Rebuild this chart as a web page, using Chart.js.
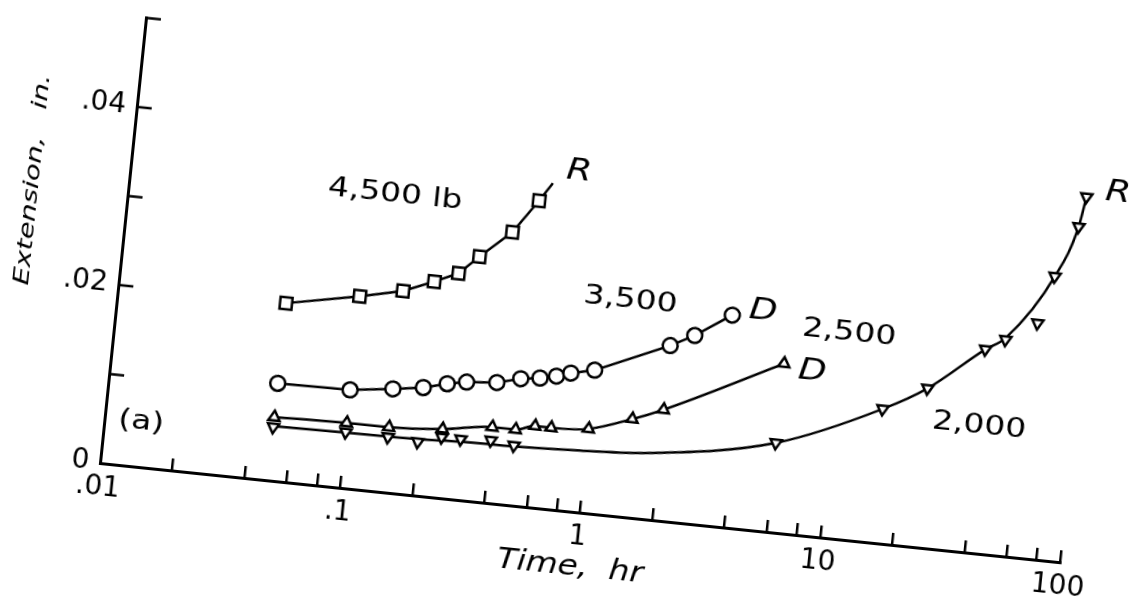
<!DOCTYPE html>
<html>
<head>
<meta charset="utf-8">
<script src="https://cdn.jsdelivr.net/npm/chart.js@4"></script>
<style>
  html, body { margin: 0; padding: 0; background: #fff; overflow: hidden; width: 1131px; height: 601px; }
  /* the whole plate sits tilted on the page, turned about the origin of the axes */
  #wrap { position: absolute; left: -70px; top: -57px; width: 1280px; height: 640px;
          transform-origin: 170px 520px; transform: rotate(5.9deg); }
</style>
</head>
<body>
<div id="wrap"><canvas id="creep" width="1280" height="640"></canvas></div>
<script>
// creep tests, extension vs time, one series per load
const times4500 = [0.05, 0.1, 0.15, 0.2, 0.25, 0.3, 0.4, 0.5, 0.56];
const ext4500   = [0.0199, 0.0215, 0.0226, 0.0240, 0.0252, 0.0273, 0.0304, 0.0342, 0.0363];

const times3500 = [0.05, 0.1, 0.15, 0.2, 0.25, 0.3, 0.4, 0.5, 0.6, 0.7, 0.8, 1.0, 2.0, 2.5, 3.5];
const ext3500   = [0.0109, 0.0110, 0.0116, 0.0121, 0.0128, 0.0132, 0.0135, 0.0142, 0.0145, 0.0149, 0.0154, 0.0160, 0.0196, 0.0210, 0.0237];

const times2500 = [0.05, 0.1, 0.15, 0.25, 0.4, 0.5, 0.6, 0.7, 1.0, 1.5, 2.0, 6.0];
const ext2500   = [0.0071, 0.0073, 0.0073, 0.0077, 0.0085, 0.0085, 0.0091, 0.0091, 0.0094, 0.0110, 0.0124, 0.0189];

const times2000 = [0.05, 0.1, 0.15, 0.2, 0.25, 0.3, 0.4, 0.5, 6, 16, 24, 40, 48, 64, 72, 86, 90];
const ext2000   = [0.0060, 0.00625, 0.0062, 0.0060, 0.0068, 0.0068, 0.0070, 0.0067, 0.0100, 0.0150, 0.0178, 0.0228, 0.0241, 0.0263, 0.0317, 0.0375, 0.0409];

// faired curve through the 2,000 lb points
const curveTimes2000 = [0.05, 0.1, 0.2, 0.3, 0.5, 0.94, 1.8, 6, 16, 24, 40, 48, 72, 86, 90];
const curveExt2000   = [0.0061, 0.0062, 0.0063, 0.0065, 0.0066, 0.0069, 0.0074, 0.0100, 0.0150, 0.0178, 0.0228, 0.0243, 0.0317, 0.0375, 0.0409];

// axis ticks and labels
const xTickValues  = [0.01, 0.02, 0.04, 0.06, 0.08, 0.1, 0.2, 0.4, 0.6, 0.8, 1, 2, 4, 6, 8, 10, 20, 40, 60, 80, 100];
const xLabelValues = [0.01, 0.1, 1, 10, 100];
const xLabelText   = ['.01', '.1', '1', '10', '100'];
const yTickValues  = [0, 0.01, 0.02, 0.03, 0.04, 0.05];
const yLabelValues = [0, 0.02, 0.04];
const yLabelText   = ['0', '.02', '.04'];

// curve notes: load, R = rupture, D = discontinued
const noteText   = ['4,500 lb', 'R', '3,500', 'D', '2,500', 'D', '2,000', 'R', '(a)'];
const noteTime   = [0.1265, 0.71, 1.31, 4.68, 10.8, 7.9, 40.6, 121, 0.0142];
const noteExt    = [0.0332, 0.0378, 0.0241, 0.0245, 0.0230, 0.0183, 0.0142, 0.0417, 0.0050];
const noteItalic = [false, true, false, true, false, true, false, true, false];

const pts = (xs, ys) => xs.map((t, i) => ({ x: t, y: ys[i] }));
const labelFor = (v, vals, texts) => {
  const i = vals.findIndex(u => Math.abs(u - v) <= u * 1e-6 + 1e-12);
  return i < 0 ? '' : texts[i];
};

const FONT = 'DejaVu Sans';

const notesPlugin = {
  id: 'notes',
  afterDraw(chart) {
    const { ctx, scales: { x, y }, chartArea } = chart;
    ctx.save();

    // y tick marks point into the plot
    ctx.strokeStyle = '#000';
    ctx.lineWidth = 2.5;
    yTickValues.forEach(v => {
      if (v === 0) return;
      const py = y.getPixelForValue(v);
      ctx.beginPath();
      ctx.moveTo(chartArea.left, py);
      ctx.lineTo(chartArea.left + 15, py);
      ctx.stroke();
    });

    ctx.fillStyle = '#000';
    ctx.textAlign = 'center';
    ctx.textBaseline = 'middle';
    noteText.forEach((t, i) => {
      ctx.save();
      ctx.translate(x.getPixelForValue(noteTime[i]), y.getPixelForValue(noteExt[i]));
      ctx.scale(1.22, 1);
      ctx.font = noteItalic[i] ? 'italic 30px "' + FONT + '"' : '27px "' + FONT + '"';
      ctx.fillText(t, 0, 0);
      ctx.restore();
    });

    // axis titles
    ctx.save();
    ctx.translate(chartArea.left + 478, chartArea.bottom + 55);
    ctx.scale(1.13, 1);
    ctx.font = 'italic 29px "' + FONT + '"';
    ctx.fillText('Time,  hr', 0, 0);
    ctx.restore();

    ctx.save();
    ctx.translate(chartArea.left - 96, chartArea.bottom - 275);
    ctx.rotate(-Math.PI / 2);
    ctx.scale(1.3, 1);
    ctx.font = 'italic 22px "' + FONT + '"';
    ctx.fillText('Extension,   in.', 0, 0);
    ctx.restore();
    ctx.restore();
  }
};

new Chart(document.getElementById('creep'), {
  type: 'scatter',
  data: {
    datasets: [
      {
        label: '4,500 lb',
        data: pts(times4500, ext4500),
        showLine: true,
        tension: 0,
        borderColor: '#000',
        borderWidth: 2.5,
        pointStyle: 'rect',
        pointRadius: c => (c.dataIndex === times4500.length - 1 ? 0 : 8.5),
        pointBackgroundColor: '#fff',
        pointBorderColor: '#000',
        pointBorderWidth: 2.5
      },
      {
        label: '3,500 lb',
        data: pts(times3500, ext3500),
        showLine: true,
        tension: 0,
        borderColor: '#000',
        borderWidth: 2.5,
        pointStyle: 'circle',
        pointRadius: 7.5,
        pointBackgroundColor: '#fff',
        pointBorderColor: '#000',
        pointBorderWidth: 2.5
      },
      {
        label: '2,500 lb',
        data: pts(times2500, ext2500),
        showLine: true,
        cubicInterpolationMode: 'monotone',
        borderColor: '#000',
        borderWidth: 2.5,
        pointStyle: 'triangle',
        pointRadius: 6.5,
        pointBackgroundColor: '#fff',
        pointBorderColor: '#000',
        pointBorderWidth: 2.5
      },
      {
        label: '2,000 lb',
        data: pts(times2000, ext2000),
        showLine: false,
        pointStyle: 'triangle',
        rotation: 180,
        pointRadius: 6.5,
        pointBackgroundColor: '#fff',
        pointBorderColor: '#000',
        pointBorderWidth: 2.5
      },
      {
        label: '2,000 lb curve',
        data: pts(curveTimes2000, curveExt2000),
        showLine: true,
        cubicInterpolationMode: 'monotone',
        borderColor: '#000',
        borderWidth: 2.5,
        pointRadius: 0
      }
    ]
  },
  options: {
    responsive: false,
    animation: false,
    layout: { padding: { left: 0, top: 72.5, right: 145, bottom: 60 } },
    plugins: { legend: { display: false }, tooltip: { enabled: false } },
    scales: {
      x: {
        type: 'logarithmic',
        min: 0.01,
        max: 100,
        afterBuildTicks: s => { s.ticks = xTickValues.map(v => ({ value: v })); },
        afterFit: s => { s.height = 60; },
        border: { display: true, color: '#000', width: 3 },
        grid: {
          drawOnChartArea: false,
          drawTicks: true,
          tickLength: -12,
          lineWidth: 2.5,
          color: c => (c.tick && c.tick.value === 0.01 ? 'rgba(0,0,0,0)' : '#000')
        },
        ticks: {
          autoSkip: false,
          maxRotation: 0,
          padding: 20,
          color: '#000',
          font: { family: FONT, size: 28 },
          callback: v => labelFor(v, xLabelValues, xLabelText)
        }
      },
      y: {
        type: 'linear',
        min: 0,
        max: 0.05,
        afterBuildTicks: s => { s.ticks = yTickValues.map(v => ({ value: v })); },
        afterFit: s => { s.width = 170; },
        border: { display: true, color: '#000', width: 3 },
        grid: { drawOnChartArea: false, drawTicks: false },
        ticks: {
          autoSkip: false,
          padding: 11,
          color: '#000',
          font: { family: FONT, size: 28 },
          callback: v => labelFor(v, yLabelValues, yLabelText)
        }
      }
    }
  },
  plugins: [notesPlugin]
});
</script>
</body>
</html>
